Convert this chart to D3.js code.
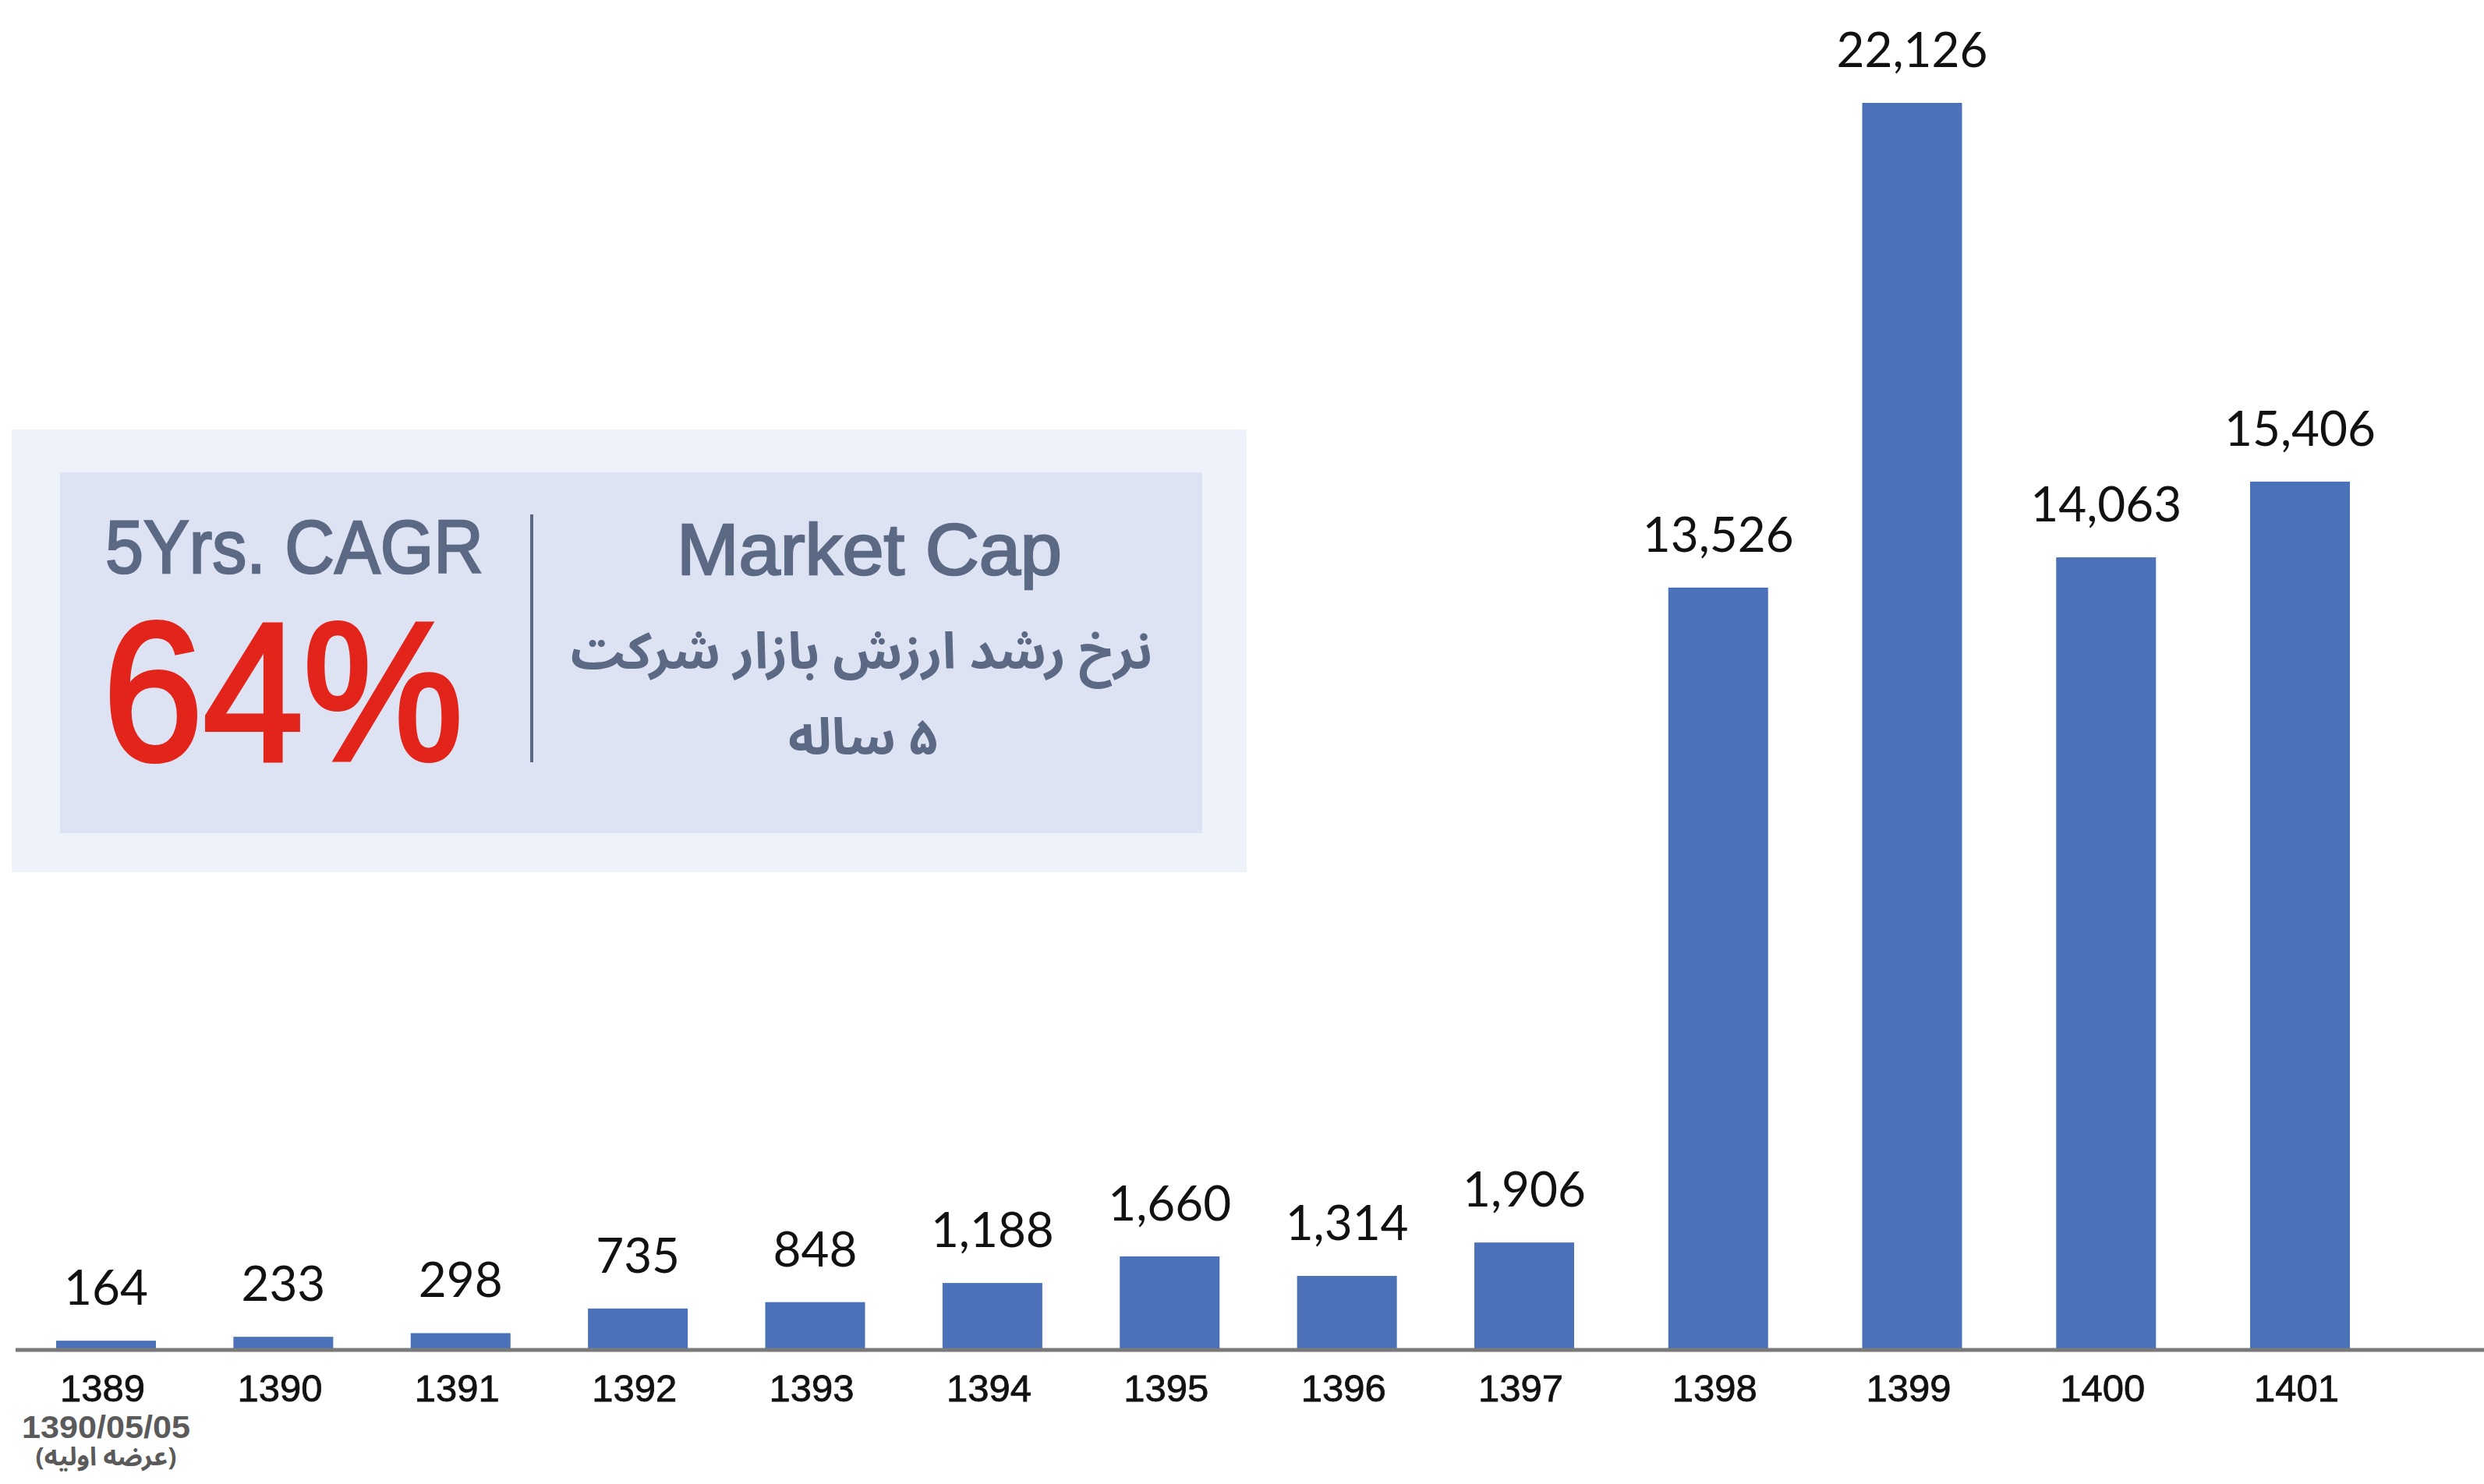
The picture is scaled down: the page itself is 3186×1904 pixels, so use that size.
<!DOCTYPE html>
<html>
<head>
<meta charset="utf-8">
<script src="https://cdn.jsdelivr.net/npm/d3@7"></script>
<style>
	body { margin: 0; background: #fff; }
	svg { display: block; }
</style>
</head>
<body>
<div id="visual"></div>
<script>
// chart data
const years = ['1389', '1390', '1391', '1392', '1393', '1394', '1395', '1396', '1397', '1398', '1399', '1400', '1401'];
const marketCap = [164, 233, 298, 735, 848, 1188, 1660, 1314, 1906, 13526, 22126, 14063, 15406];
const ipoNote = ['1390/05/05', '(عرضه اولیه)'];
const cagrTitle = '5Yrs. CAGR',
			cagrValue = '64%',
			boxTitle = 'Market Cap',
			boxSubtitle = ['نرخ رشد ارزش بازار شرکت', '۵ ساله'];

const width = 3186,
			height = 1904,
			barWidth = 128,
			baseY = 1732,
			barColor = '#4b72b8',
			textBlue = '#5b6984';

let visual = document.getElementById('visual'),
		svg;

// bars 1389-1397 sit closer together than 1398-1401, so the x scale is piecewise
const x = d3.scaleLinear()
	.domain([0, 8, years.length - 1])
	.range([136, 1955, 2950]);

const y = d3.scaleLinear()
	.domain([0, d3.max(marketCap)])
	.range([baseY, 132]);

const fmt = d3.format(',');

const drawBox = () => {
	const box = svg.append('g');

	box.append('rect')
		.attr('x', 15).attr('y', 551)
		.attr('width', 1584).attr('height', 568)
		.attr('fill', '#eef2fa');

	box.append('rect')
		.attr('x', 77).attr('y', 606)
		.attr('width', 1465).attr('height', 463)
		.attr('fill', '#dde3f2');

	box.append('line')
		.attr('x1', 682).attr('x2', 682)
		.attr('y1', 660).attr('y2', 978)
		.attr('stroke', textBlue)
		.attr('stroke-width', 4);

	box.append('text')
		.attr('x', 135).attr('y', 735)
		.attr('font-family', '"Liberation Sans", Arial, sans-serif')
		.attr('font-size', 96)
		.attr('textLength', 485)
		.attr('lengthAdjust', 'spacingAndGlyphs')
		.attr('fill', textBlue)
		.attr('stroke', textBlue)
		.attr('stroke-width', 2.5)
		.text(cagrTitle);

	box.append('text')
		.attr('x', 132).attr('y', 975)
		.attr('font-family', '"Liberation Sans", Arial, sans-serif')
		.attr('font-size', 252)
		.attr('textLength', 462)
		.attr('lengthAdjust', 'spacingAndGlyphs')
		.attr('fill', '#e3241b')
		.attr('stroke', '#e3241b')
		.attr('stroke-width', 6)
		.text(cagrValue);

	box.append('text')
		.attr('x', 868).attr('y', 737)
		.attr('font-family', '"Liberation Sans", Arial, sans-serif')
		.attr('font-size', 92)
		.attr('textLength', 494)
		.attr('lengthAdjust', 'spacingAndGlyphs')
		.attr('fill', textBlue)
		.attr('stroke', textBlue)
		.attr('stroke-width', 2.5)
		.text(boxTitle);

	box.selectAll('text.fa')
		.data(boxSubtitle)
		.enter()
		.append('text')
		.attr('class', 'fa')
		.attr('x', (d, i) => i ? 1107 : 1105)
		.attr('y', (d, i) => i ? 968 : 858)
		.attr('direction', 'rtl')
		.attr('text-anchor', 'middle')
		.attr('font-family', '"Noto Sans Arabic", "DejaVu Sans", sans-serif')
		.attr('font-weight', 'bold')
		.attr('font-size', 65)
		.attr('fill', textBlue)
		.text(d => d);
};

const drawChart = () => {
	svg = d3.select(visual).append('svg')
		.attr('width', width)
		.attr('height', height)
		.style('background', '#fff');

	drawBox();

	// Bars
	svg.selectAll('rect.bar')
		.data(marketCap)
		.enter()
		.append('rect')
		.attr('class', 'bar')
		.attr('x', (d, i) => x(i) - barWidth / 2)
		.attr('y', d => y(d))
		.attr('width', barWidth)
		.attr('height', d => baseY - y(d))
		.attr('fill', barColor);

	// value labels
	svg.selectAll('text.value')
		.data(marketCap)
		.enter()
		.append('text')
		.attr('class', 'value')
		.attr('x', (d, i) => x(i))
		.attr('y', d => y(d) - 46)
		.attr('text-anchor', 'middle')
		.attr('font-family', 'Lato, "Open Sans", sans-serif')
		.attr('font-size', 62)
		.attr('fill', '#111')
		.text(d => fmt(d));

	// x axis
	const xAxis = d3.axisBottom(x)
		.tickValues(d3.range(years.length))
		.tickFormat(i => years[i])
		.tickSize(0);

	const axisG = svg.append('g')
		.attr('transform', `translate(0,${baseY})`)
		.call(xAxis);

	axisG.select('.domain').remove();
	axisG.selectAll('text')
		.attr('y', 66)
		.attr('dy', null)
		.attr('dx', -5)
		.attr('font-family', '"Liberation Sans", Arial, sans-serif')
		.attr('font-size', 49)
		.attr('fill', '#111')
		.attr('stroke', '#111')
		.attr('stroke-width', 0.8);

	svg.append('line')
		.attr('x1', 20).attr('x2', width)
		.attr('y1', baseY).attr('y2', baseY)
		.attr('stroke', '#7a7a7a')
		.attr('stroke-width', 5);

	// IPO note under the first year
	svg.append('text')
		.attr('x', x(0))
		.attr('y', 1845)
		.attr('text-anchor', 'middle')
		.attr('font-family', '"Liberation Sans", Arial, sans-serif')
		.attr('font-weight', 'bold')
		.attr('font-size', 40)
		.attr('textLength', 216)
		.attr('lengthAdjust', 'spacingAndGlyphs')
		.attr('fill', '#5a5a5a')
		.text(ipoNote[0]);

	svg.append('text')
		.attr('x', x(0))
		.attr('y', 1880)
		.attr('direction', 'rtl')
		.attr('text-anchor', 'middle')
		.attr('font-family', '"Noto Sans Arabic", "DejaVu Sans", sans-serif')
		.attr('font-weight', 'bold')
		.attr('font-size', 33)
		.attr('fill', '#5a5a5a')
		.text(ipoNote[1]);
};

drawChart();
</script>
</body>
</html>
